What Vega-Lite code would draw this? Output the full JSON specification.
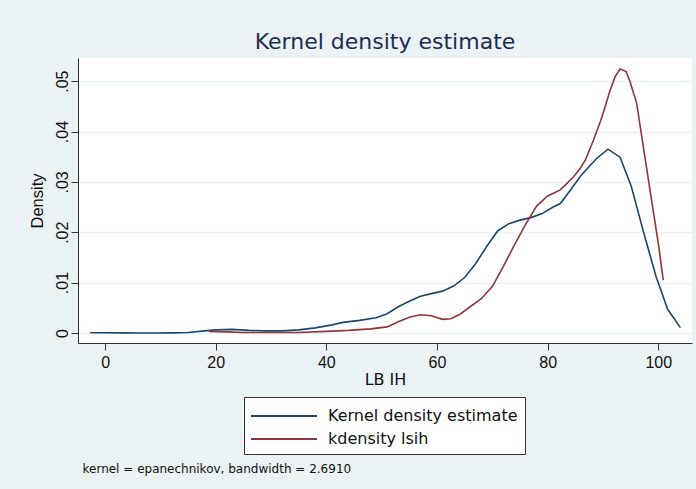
{
  "$schema": "https://vega.github.io/schema/vega-lite/v6.json",
  "width": 614,
  "height": 285,
  "autosize": {"type": "none"},
  "padding": {"left": 78, "top": 58, "right": 4, "bottom": 146},
  "background": "#eaf2f3",
  "config": {"font": "Liberation Sans", "view": {"fill": "white", "stroke": null}},
  "title": {"text": "Kernel density estimate", "fontSize": 22, "fontWeight": "normal", "color": "#1e2d53", "offset": 4, "anchor": "middle", "font": "DejaVu Sans"},
  "datasets": {
    "d": [
      {"series": "Kernel density estimate", "x": -2.7, "y": 0.00003},
      {"series": "Kernel density estimate", "x": 0, "y": 0.00003},
      {"series": "Kernel density estimate", "x": 3, "y": 0.00002},
      {"series": "Kernel density estimate", "x": 6, "y": 0.0},
      {"series": "Kernel density estimate", "x": 9, "y": 0.0},
      {"series": "Kernel density estimate", "x": 12, "y": 0.00001},
      {"series": "Kernel density estimate", "x": 15, "y": 0.00008},
      {"series": "Kernel density estimate", "x": 18, "y": 0.0004},
      {"series": "Kernel density estimate", "x": 20, "y": 0.0006},
      {"series": "Kernel density estimate", "x": 23, "y": 0.0007},
      {"series": "Kernel density estimate", "x": 26, "y": 0.0005},
      {"series": "Kernel density estimate", "x": 29, "y": 0.0004},
      {"series": "Kernel density estimate", "x": 32, "y": 0.0004},
      {"series": "Kernel density estimate", "x": 35, "y": 0.0006},
      {"series": "Kernel density estimate", "x": 38, "y": 0.001},
      {"series": "Kernel density estimate", "x": 41, "y": 0.0016},
      {"series": "Kernel density estimate", "x": 43, "y": 0.0021},
      {"series": "Kernel density estimate", "x": 46, "y": 0.0025},
      {"series": "Kernel density estimate", "x": 49, "y": 0.003},
      {"series": "Kernel density estimate", "x": 51, "y": 0.0038},
      {"series": "Kernel density estimate", "x": 53, "y": 0.0052},
      {"series": "Kernel density estimate", "x": 55, "y": 0.0063},
      {"series": "Kernel density estimate", "x": 57, "y": 0.0073},
      {"series": "Kernel density estimate", "x": 59, "y": 0.0078},
      {"series": "Kernel density estimate", "x": 61, "y": 0.0083},
      {"series": "Kernel density estimate", "x": 63, "y": 0.0093},
      {"series": "Kernel density estimate", "x": 65, "y": 0.011},
      {"series": "Kernel density estimate", "x": 67, "y": 0.0138},
      {"series": "Kernel density estimate", "x": 69, "y": 0.0172},
      {"series": "Kernel density estimate", "x": 71, "y": 0.0203},
      {"series": "Kernel density estimate", "x": 73, "y": 0.0217},
      {"series": "Kernel density estimate", "x": 75, "y": 0.0224},
      {"series": "Kernel density estimate", "x": 77, "y": 0.0229},
      {"series": "Kernel density estimate", "x": 79, "y": 0.0237},
      {"series": "Kernel density estimate", "x": 81, "y": 0.025},
      {"series": "Kernel density estimate", "x": 82.3, "y": 0.0257},
      {"series": "Kernel density estimate", "x": 84, "y": 0.0282},
      {"series": "Kernel density estimate", "x": 86, "y": 0.0312},
      {"series": "Kernel density estimate", "x": 88.8, "y": 0.0346},
      {"series": "Kernel density estimate", "x": 90.9, "y": 0.0365},
      {"series": "Kernel density estimate", "x": 93.1, "y": 0.0349},
      {"series": "Kernel density estimate", "x": 95.1, "y": 0.0292},
      {"series": "Kernel density estimate", "x": 97.3, "y": 0.0202},
      {"series": "Kernel density estimate", "x": 99.6, "y": 0.0112},
      {"series": "Kernel density estimate", "x": 101.7, "y": 0.0047},
      {"series": "Kernel density estimate", "x": 104, "y": 0.00105},
      {"series": "kdensity lsih", "x": 18.8, "y": 0.0003},
      {"series": "kdensity lsih", "x": 22, "y": 0.0002},
      {"series": "kdensity lsih", "x": 25, "y": 0.0001},
      {"series": "kdensity lsih", "x": 30, "y": 0.0001},
      {"series": "kdensity lsih", "x": 35, "y": 0.0001},
      {"series": "kdensity lsih", "x": 40, "y": 0.0003},
      {"series": "kdensity lsih", "x": 44, "y": 0.0005},
      {"series": "kdensity lsih", "x": 48, "y": 0.0008},
      {"series": "kdensity lsih", "x": 51, "y": 0.0012},
      {"series": "kdensity lsih", "x": 53, "y": 0.0022},
      {"series": "kdensity lsih", "x": 55, "y": 0.0031},
      {"series": "kdensity lsih", "x": 57, "y": 0.0036},
      {"series": "kdensity lsih", "x": 59, "y": 0.0034},
      {"series": "kdensity lsih", "x": 61, "y": 0.0027},
      {"series": "kdensity lsih", "x": 62.5, "y": 0.0028},
      {"series": "kdensity lsih", "x": 64, "y": 0.0036},
      {"series": "kdensity lsih", "x": 66, "y": 0.0052},
      {"series": "kdensity lsih", "x": 68, "y": 0.0068},
      {"series": "kdensity lsih", "x": 70, "y": 0.0092},
      {"series": "kdensity lsih", "x": 72, "y": 0.0132},
      {"series": "kdensity lsih", "x": 74, "y": 0.0175},
      {"series": "kdensity lsih", "x": 76, "y": 0.0215},
      {"series": "kdensity lsih", "x": 78, "y": 0.0252},
      {"series": "kdensity lsih", "x": 80, "y": 0.0272},
      {"series": "kdensity lsih", "x": 82.3, "y": 0.0284},
      {"series": "kdensity lsih", "x": 83.5, "y": 0.0297},
      {"series": "kdensity lsih", "x": 84.7, "y": 0.031},
      {"series": "kdensity lsih", "x": 85.9, "y": 0.0327},
      {"series": "kdensity lsih", "x": 86.8, "y": 0.0343},
      {"series": "kdensity lsih", "x": 88.3, "y": 0.0383},
      {"series": "kdensity lsih", "x": 89.5, "y": 0.0419},
      {"series": "kdensity lsih", "x": 90.1, "y": 0.0439},
      {"series": "kdensity lsih", "x": 91.3, "y": 0.0482},
      {"series": "kdensity lsih", "x": 92.2, "y": 0.0509},
      {"series": "kdensity lsih", "x": 93.1, "y": 0.0524},
      {"series": "kdensity lsih", "x": 94.2, "y": 0.0519},
      {"series": "kdensity lsih", "x": 94.9, "y": 0.0499},
      {"series": "kdensity lsih", "x": 96.1, "y": 0.0456},
      {"series": "kdensity lsih", "x": 97.3, "y": 0.037},
      {"series": "kdensity lsih", "x": 98.6, "y": 0.0277},
      {"series": "kdensity lsih", "x": 100.1, "y": 0.0171},
      {"series": "kdensity lsih", "x": 100.9, "y": 0.0105}
    ]
  },
  "data": {"name": "d"},
  "resolve": {"scale": {"x": "independent"}},
  "layer": [
    {
      "mark": {"type": "line", "strokeWidth": 1.6},
      "encoding": {
        "x": {
          "field": "x", "type": "quantitative",
          "scale": {"domain": [-4.9, 106.1], "nice": false, "zero": false},
          "axis": {
            "values": [0, 20, 40, 60, 80, 100], "title": "LB IH", "grid": false,
            "labelFontSize": 16, "labelColor": "#111", "labelPadding": 4,
            "titleFont": "DejaVu Sans", "titleFontSize": 16, "titleFontWeight": "normal", "titleColor": "#111", "titlePadding": 1,
            "tickSize": 7, "tickColor": "#333", "domainColor": "#333", "tickWidth": 1, "domainWidth": 1
          }
        },
        "y": {
          "field": "y", "type": "quantitative",
          "scale": {"domain": [-0.002, 0.0546], "nice": false, "zero": false},
          "axis": {
            "values": [0, 0.01, 0.02, 0.03, 0.04, 0.05], "title": "Density",
            "labelExpr": "datum.value == 0 ? '0' : substring(format(datum.value, '.2f'), 1)",
            "labelAngle": -90, "labelAlign": "center", "labelBaseline": "bottom",
            "labelFontSize": 16, "labelColor": "#111", "labelPadding": 1,
            "titleFontSize": 16.5, "titleFontWeight": "normal", "titleColor": "#111", "titlePadding": 9,
            "tickSize": 7, "tickColor": "#333", "domainColor": "#333",
            "grid": true, "gridColor": "#eaf2f3", "gridWidth": 1.5
          }
        },
        "color": {
          "field": "series", "type": "nominal",
          "scale": {"domain": ["Kernel density estimate", "kdensity lsih"], "range": ["#1a476f", "#90353b"]},
          "legend": {
            "title": null, "orient": "none", "legendX": 166, "legendY": 339,
            "symbolType": "M-3,0H3", "symbolSize": 484, "symbolStrokeWidth": 2, "symbolOffset": 21,
            "labelFont": "DejaVu Sans", "labelFontSize": 16, "labelColor": "#111", "labelOffset": 32, "labelLimit": 400,
            "fillColor": "white", "strokeColor": "#333", "padding": 7, "rowPadding": 3
          }
        }
      }
    },
    {
      "mark": {"type": "line", "opacity": 0},
      "encoding": {
        "x": {
          "field": "x", "type": "quantitative",
          "scale": {"domain": [-4.9, 106.1], "nice": false, "zero": false},
          "axis": {
            "orient": "bottom", "labels": false, "ticks": false, "domain": false, "grid": false,
            "title": "kernel = epanechnikov, bandwidth = 2.6910",
            "titleFont": "DejaVu Sans", "titleFontSize": 12, "titleFontWeight": "normal", "titleColor": "#111",
            "titleAnchor": "start", "titleAlign": "left", "titleX": 4, "titleY": 125, "titleBaseline": "middle"
          }
        },
        "y": {"field": "y", "type": "quantitative"},
        "detail": {"field": "series"}
      }
    }
  ]
}
